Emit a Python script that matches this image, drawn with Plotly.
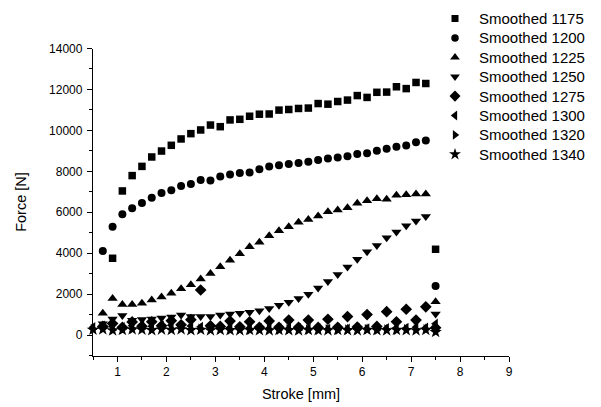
import plotly.graph_objects as go

# Stroke positions [mm] shared by all series (None = no point)
STROKE = [0.5, 0.7, 0.9, 1.1, 1.3, 1.5, 1.7, 1.9, 2.1, 2.3, 2.5, 2.7, 2.9, 3.1, 3.3, 3.5,
          3.7, 3.9, 4.1, 4.3, 4.5, 4.7, 4.9, 5.1, 5.3, 5.5, 5.7, 5.9, 6.1, 6.3, 6.5, 6.7,
          6.9, 7.1, 7.3, 7.5]

F1175 = [None, None, 3750, 7040, 7790, 8240, 8700, 8990, 9270, 9580, 9840, 10020, 10260, 10180,
         10510, 10540, 10690, 10790, 10800, 10990, 11020, 11070, 11090, 11310, 11280, 11410,
         11480, 11700, 11610, 11860, 11870, 12130, 12040, 12340, 12290, 4190]
F1200 = [None, 4100, 5290, 5900, 6190, 6450, 6710, 6940, 7070, 7280, 7380, 7580, 7550, 7750,
         7840, 7920, 7940, 8100, 8230, 8290, 8360, 8400, 8470, 8550, 8620, 8680, 8740, 8840,
         8880, 9000, 9100, 9200, 9260, 9420, 9500, 2400]
F1225 = [None, 1070, 1790, 1490, 1490, 1550, 1710, 1860, 2040, 2260, 2460, 2740, 3010, 3340,
         3660, 3970, 4310, 4530, 4850, 5100, 5290, 5510, 5650, 5810, 6020, 6110, 6220, 6440,
         6560, 6660, 6630, 6830, 6860, 6890, 6890, 1630]
F1250 = [None, 550, 780, 950, 720, 760, 780, 830, 880, 980, 900, 900, 900, 980, 1030, 1060,
         1110, 1190, 1300, 1450, 1600, 1790, 1990, 2300, 2620, 2960, 3330, 3700, 4070, 4380,
         4750, 5030, 5340, 5570, 5790, 1030]
F1275 = [None, 420, 560, 380, 640, 430, 650, 450, 700, 500, 750, 2200, 450, 420, 680, 400,
         650, 380, 690, 380, 730, 380, 730, 370, 770, 380, 900, 390, 1000, 420, 1140, 650,
         1260, 730, 1380, 350]
F1300 = [380, 450, 420, 380, 450, 500, 430, 460, 480, 420, 440, 400, 380, 350, 370, 360,
         340, 350, 330, 340, 320, 330, 310, 320, 300, 330, 310, 340, 320, 350, 330, 360,
         340, 380, 360, 550]
F1320 = [300, 320, 250, 280, 300, 330, 280, 350, 300, 330, 290, 310, 280, 300, 270, 290,
         260, 280, 270, 260, 280, 250, 270, 260, 280, 250, 270, 260, 280, 250, 270, 260,
         280, 270, 290, 200]
F1340 = [260, 280, 230, 250, 280, 260, 240, 270, 250, 280, 240, 260, 230, 250, 240, 230,
         250, 240, 230, 250, 240, 230, 250, 240, 230, 250, 240, 230, 250, 240, 230, 250,
         240, 230, 250, 150]

NAMES = ["Smoothed 1175", "Smoothed 1200", "Smoothed 1225", "Smoothed 1250",
         "Smoothed 1275", "Smoothed 1300", "Smoothed 1320", "Smoothed 1340"]
SERIES = [F1175, F1200, F1225, F1250, F1275, F1300, F1320, F1340]
SYMBOLS = ["square", "circle", "triangle-up", "triangle-down", "diamond",
           "triangle-left", "triangle-right", "star"]
SIZES = [7.5, 8, 9, 9, 9, 9, 9, 9.5]

FONT = "Liberation Sans, Arial, sans-serif"
W, H = 601, 407
# plot frame in pixels
PL, PR, PT, PB = 93, 509, 48.5, 355.5
# custom legend layout (pixels)
LEG_SYM_X, LEG_TXT_X, LEG_Y0, LEG_DY = 455, 477, 18.5, 19.4

fig = go.Figure()
for name, ys, sym, sz in zip(NAMES, SERIES, SYMBOLS, SIZES):
    xs = [x for x, y in zip(STROKE, ys) if y is not None]
    yv = [y for y in ys if y is not None]
    fig.add_trace(go.Scatter(x=xs, y=yv, mode="markers", name=name, cliponaxis=False,
                             showlegend=False,
                             marker=dict(symbol=sym, size=sz, color="black",
                                         line=dict(width=0))))

# legend: symbols on a hidden full-figure pixel axis, labels as annotations
for i, (name, sym, sz) in enumerate(zip(NAMES, SYMBOLS, SIZES)):
    yy = LEG_Y0 + i * LEG_DY
    fig.add_trace(go.Scatter(x=[LEG_SYM_X], y=[yy], xaxis="x2", yaxis="y2",
                             mode="markers", showlegend=False, hoverinfo="skip",
                             cliponaxis=False,
                             marker=dict(symbol=sym, size=sz - 0.5, color="black",
                                         line=dict(width=0))))
    fig.add_annotation(x=LEG_TXT_X, y=yy, xref="x2", yref="y2", text=name,
                       showarrow=False, xanchor="left", yanchor="middle",
                       font=dict(family=FONT, size=15, color="black"))

axis_common = dict(showline=True, linecolor="black", linewidth=1.3, ticks="outside",
                   ticklen=5, tickwidth=1.2, tickcolor="black", showgrid=False,
                   zeroline=False, mirror=False, tickformat="d", automargin=False,
                   tickfont=dict(family=FONT, size=12, color="black"))

fig.update_layout(
    xaxis=dict(domain=[PL / W, PR / W], range=[0.5, 9], dtick=1, tick0=0,
               ticklabelstandoff=0,
               minor=dict(dtick=0.5, tick0=0, ticks="outside", ticklen=3,
                          tickwidth=1.2, tickcolor="black"),
               title=dict(text="Stroke [mm]",
                          font=dict(family=FONT, size=14.5, color="black"), standoff=10),
               **axis_common),
    yaxis=dict(domain=[(H - PB) / H, (H - PT) / H], range=[-1000, 14000], dtick=2000, tick0=0,
               ticklabelstandoff=2,
               minor=dict(dtick=1000, tick0=0, ticks="outside", ticklen=3,
                          tickwidth=1.2, tickcolor="black"),
               title=dict(text="Force [N]",
                          font=dict(family=FONT, size=14.5, color="black"), standoff=19),
               **axis_common),
    xaxis2=dict(domain=[0, 1], range=[0, W], visible=False, anchor="y2",
                fixedrange=True),
    yaxis2=dict(domain=[0, 1], range=[H, 0], visible=False, anchor="x2",
                fixedrange=True),
    width=W, height=H,
    margin=dict(l=0, r=0, t=0, b=0),
    paper_bgcolor="white", plot_bgcolor="rgba(0,0,0,0)",
    font=dict(family=FONT, color="black"),
    showlegend=False,
)

fig.write_html("out.html")
